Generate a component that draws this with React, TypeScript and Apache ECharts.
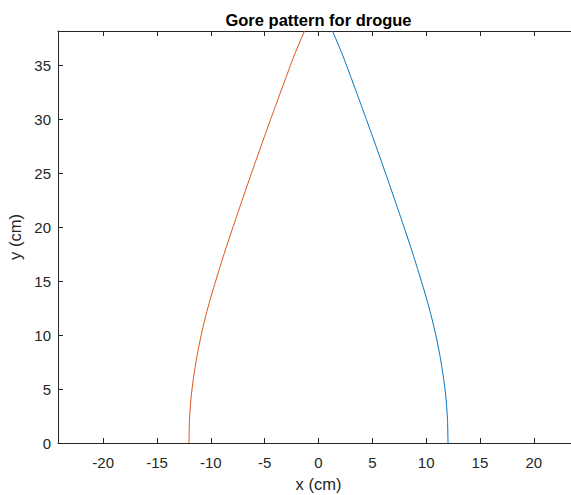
import React, { useEffect, useRef } from "react";
import * as echarts from "echarts";

// Height along the gore (cm)
const yValues = [0, 2, 4, 6, 8, 10, 12, 14, 16, 18, 20, 22, 24, 26, 28, 30, 32, 34, 36, 38.2];
// Right edge of the gore (cm)
const rightX = [12.03, 11.99, 11.86, 11.62, 11.3, 10.9, 10.42, 9.86, 9.25, 8.62, 7.95, 7.27, 6.58, 5.88, 5.17, 4.45, 3.72, 2.98, 2.23, 1.3];
// Left edge of the gore (cm)
const leftX = [-12.03, -11.99, -11.86, -11.62, -11.3, -10.9, -10.42, -9.86, -9.25, -8.62, -7.95, -7.27, -6.58, -5.88, -5.17, -4.45, -3.72, -2.98, -2.23, -1.3];

const xTicks = [-20, -15, -10, -5, 0, 5, 10, 15, 20];
const yTicks = [0, 5, 10, 15, 20, 25, 30, 35];

const X_MIN = -24.2;
const X_MAX = 24.2;
const Y_MIN = 0;
const Y_MAX = 38.2;

const FONT = "'Liberation Sans', Arial, Helvetica, sans-serif";
const AXIS_COLOR = "#262626";

export default function App() {
  const ref = useRef<HTMLDivElement>(null);

  useEffect(() => {
    if (!ref.current) return;
    const chart = echarts.init(ref.current, undefined, { renderer: "svg" });

    const blueData = yValues.map((y, i) => [rightX[i], y]);
    const redData = yValues.map((y, i) => [leftX[i], y]);

    const tickCommon = {
      show: true,
      inside: true,
      length: 5,
      lineStyle: { color: AXIS_COLOR, width: 1 },
    };

    chart.setOption({
      animation: false,
      backgroundColor: "#ffffff",
      grid: {
        left: 58,
        top: 31,
        right: -8,
        bottom: 52,
        containLabel: false,
        outerBoundsMode: "none",
      },
      graphic: [
        {
          type: "text",
          x: 318.5,
          y: 19.5,
          style: {
            text: "Gore pattern for drogue",
            textAlign: "center",
            textVerticalAlign: "middle",
            font: `bold 16.5px ${FONT}`,
            fill: "#000000",
          },
        },
      ],
      xAxis: [
        {
          type: "value",
          position: "bottom",
          min: X_MIN,
          max: X_MAX,
          splitLine: { show: false },
          axisLine: { show: true, onZero: false, lineStyle: { color: AXIS_COLOR, width: 1 } },
          axisTick: { ...tickCommon, customValues: xTicks },
          axisLabel: {
            customValues: xTicks,
            color: AXIS_COLOR,
            fontSize: 15,
            fontFamily: FONT,
            margin: 12,
          },
          name: "x (cm)",
          nameLocation: "middle",
          nameGap: 32,
          nameTextStyle: { color: AXIS_COLOR, fontSize: 16.5, fontFamily: FONT },
        },
        {
          type: "value",
          position: "top",
          min: X_MIN,
          max: X_MAX,
          splitLine: { show: false },
          axisLine: { show: true, onZero: false, lineStyle: { color: AXIS_COLOR, width: 1 } },
          axisTick: { ...tickCommon, customValues: xTicks },
          axisLabel: { show: false },
        },
      ],
      yAxis: [
        {
          type: "value",
          position: "left",
          min: Y_MIN,
          max: Y_MAX,
          splitLine: { show: false },
          axisLine: { show: true, onZero: false, lineStyle: { color: AXIS_COLOR, width: 1 } },
          axisTick: { ...tickCommon, customValues: yTicks },
          axisLabel: {
            customValues: yTicks,
            color: AXIS_COLOR,
            fontSize: 15,
            fontFamily: FONT,
            margin: 7,
          },
          name: "y (cm)",
          nameLocation: "middle",
          nameGap: 35,
          nameTextStyle: { color: AXIS_COLOR, fontSize: 16.5, fontFamily: FONT },
        },
      ],
      series: [
        {
          type: "line",
          xAxisIndex: 0,
          yAxisIndex: 0,
          data: blueData,
          showSymbol: false,
          smooth: 0.2,
          clip: true,
          lineStyle: { color: "#0072BD", width: 1 },
          itemStyle: { color: "#0072BD" },
        },
        {
          type: "line",
          xAxisIndex: 0,
          yAxisIndex: 0,
          data: redData,
          showSymbol: false,
          smooth: 0.2,
          clip: true,
          lineStyle: { color: "#D95319", width: 1 },
          itemStyle: { color: "#D95319" },
        },
      ],
    });

    return () => chart.dispose();
  }, []);

  return (
    <div
      ref={ref}
      style={{ position: "fixed", left: 0, top: 0, width: 571, height: 495, background: "#fff" }}
    />
  );
}
